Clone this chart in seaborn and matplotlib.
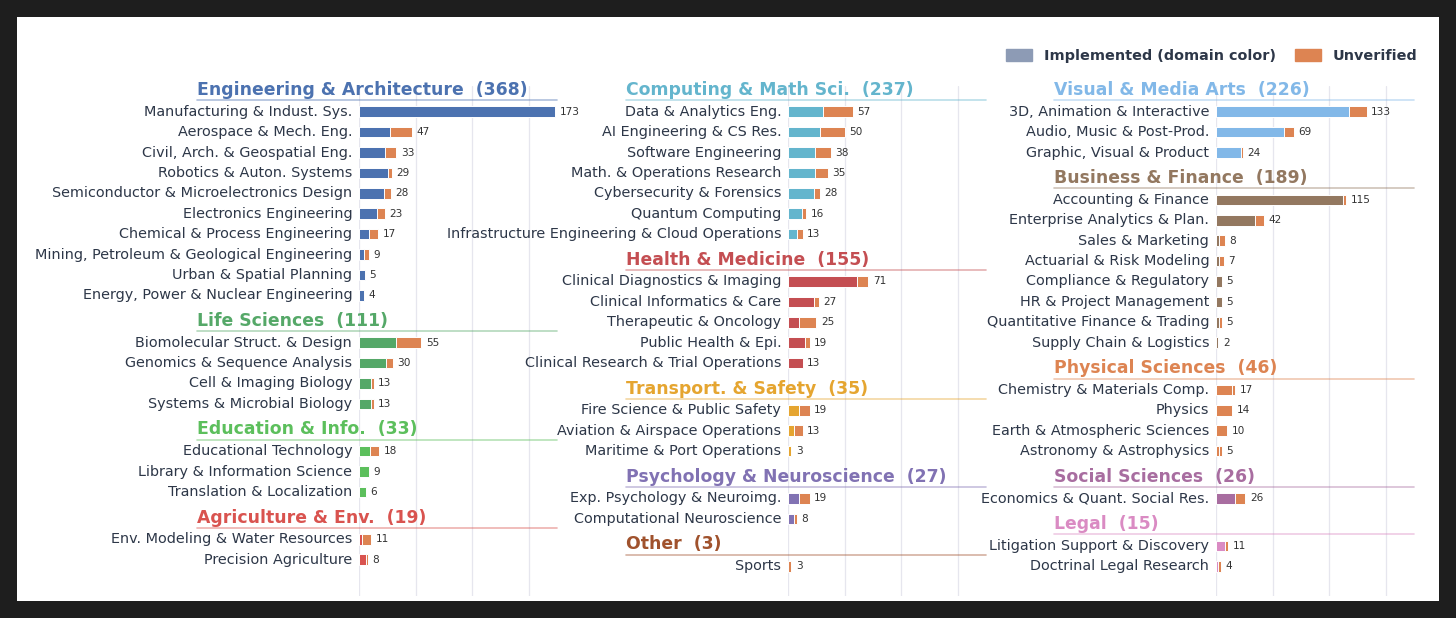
import pandas as pd
import matplotlib.pyplot as plt
import seaborn as sns
from matplotlib.patches import Patch, Rectangle

# ---- data (implemented / unverified counts per sub-field) ----
eng_labels = ["Manufacturing & Indust. Sys.", "Aerospace & Mech. Eng.", "Civil, Arch. & Geospatial Eng.",
              "Robotics & Auton. Systems", "Semiconductor & Microelectronics Design", "Electronics Engineering",
              "Chemical & Process Engineering", "Mining, Petroleum & Geological Engineering",
              "Urban & Spatial Planning", "Energy, Power & Nuclear Engineering"]
eng_impl = [173, 27, 23, 26, 22, 16, 9, 4, 5, 4]
eng_unv = [0, 20, 10, 3, 6, 7, 8, 5, 0, 0]

life_labels = ["Biomolecular Struct. & Design", "Genomics & Sequence Analysis", "Cell & Imaging Biology",
               "Systems & Microbial Biology"]
life_impl = [33, 24, 11, 11]
life_unv = [22, 6, 2, 2]

edu_labels = ["Educational Technology", "Library & Information Science", "Translation & Localization"]
edu_impl = [10, 9, 6]
edu_unv = [8, 0, 0]

agri_labels = ["Env. Modeling & Water Resources", "Precision Agriculture"]
agri_impl = [3, 6]
agri_unv = [8, 2]

comp_labels = ["Data & Analytics Eng.", "AI Engineering & CS Res.", "Software Engineering",
               "Math. & Operations Research", "Cybersecurity & Forensics", "Quantum Computing",
               "Infrastructure Engineering & Cloud Operations"]
comp_impl = [31, 28, 24, 24, 23, 12, 8]
comp_unv = [26, 22, 14, 11, 5, 4, 5]

health_labels = ["Clinical Diagnostics & Imaging", "Clinical Informatics & Care", "Therapeutic & Oncology",
                 "Public Health & Epi.", "Clinical Research & Trial Operations"]
health_impl = [61, 23, 10, 15, 13]
health_unv = [10, 4, 15, 4, 0]

trans_labels = ["Fire Science & Public Safety", "Aviation & Airspace Operations", "Maritime & Port Operations"]
trans_impl = [10, 5, 3]
trans_unv = [9, 8, 0]

psych_labels = ["Exp. Psychology & Neuroimg.", "Computational Neuroscience"]
psych_impl = [10, 5]
psych_unv = [9, 3]

other_labels = ["Sports"]
other_impl = [0]
other_unv = [3]

vis_labels = ["3D, Animation & Interactive", "Audio, Music & Post-Prod.", "Graphic, Visual & Product"]
vis_impl = [117, 60, 22]
vis_unv = [16, 9, 2]

bus_labels = ["Accounting & Finance", "Enterprise Analytics & Plan.", "Sales & Marketing",
              "Actuarial & Risk Modeling", "Compliance & Regulatory", "HR & Project Management",
              "Quantitative Finance & Trading", "Supply Chain & Logistics"]
bus_impl = [112, 34, 3, 3, 5, 5, 3, 2]
bus_unv = [3, 8, 5, 4, 0, 0, 2, 0]

phys_labels = ["Chemistry & Materials Comp.", "Physics", "Earth & Atmospheric Sciences", "Astronomy & Astrophysics"]
phys_impl = [14, 14, 10, 3]
phys_unv = [3, 0, 0, 2]

soc_labels = ["Economics & Quant. Social Res."]
soc_impl = [17]
soc_unv = [9]

legal_labels = ["Litigation Support & Discovery", "Doctrinal Legal Research"]
legal_impl = [8, 2]
legal_unv = [3, 2]

UNV = "#dd8452"
columns = [
    [("Engineering & Architecture", eng_labels, eng_impl, eng_unv, "#4c72b0"),
     ("Life Sciences", life_labels, life_impl, life_unv, "#55a868"),
     ("Education & Info.", edu_labels, edu_impl, edu_unv, "#5cbf5c"),
     ("Agriculture & Env.", agri_labels, agri_impl, agri_unv, "#d9534f")],
    [("Computing & Math Sci.", comp_labels, comp_impl, comp_unv, "#64b5cd"),
     ("Health & Medicine", health_labels, health_impl, health_unv, "#c44e52"),
     ("Transport. & Safety", trans_labels, trans_impl, trans_unv, "#e5a530"),
     ("Psychology & Neuroscience", psych_labels, psych_impl, psych_unv, "#8172b3"),
     ("Other", other_labels, other_impl, other_unv, "#a0522d")],
    [("Visual & Media Arts", vis_labels, vis_impl, vis_unv, "#82b8e8"),
     ("Business & Finance", bus_labels, bus_impl, bus_unv, "#937860"),
     ("Physical Sciences", phys_labels, phys_impl, phys_unv, "#dd8452"),
     ("Social Sciences", soc_labels, soc_impl, soc_unv, "#a86da0"),
     ("Legal", legal_labels, legal_impl, legal_unv, "#da8bc3")],
]

sns.set_style("whitegrid")
plt.rcParams['font.family'] = ['DejaVu Sans']

W, H = 1456, 618
G = 1.16          # gap between a header and its neighbouring rows
XMAX = 174.7
HX = -143         # header x position (data units)

fig = plt.figure(figsize=(W / 100, H / 100), dpi=100, facecolor="#1e1e1e")
fig.patches.append(Rectangle((17 / W, 17 / H), 1422 / W, 584 / H, transform=fig.transFigure,
                             facecolor="white", edgecolor="none", zorder=-10))

lefts = [359, 788, 1216]
for left, col in zip(lefts, columns):
    ax = fig.add_axes([left / W, 22 / H, 198 / W, 510 / H])
    ax.patch.set_alpha(0)

    rows, headers = [], []
    y = 0.0
    for name, labels, impl, unv, color in col:
        headers.append((y, name, sum(impl) + sum(unv), color))
        y += G
        for lab, i, u in zip(labels, impl, unv):
            rows.append(dict(y=y, label=lab, domain=name, impl=i, total=i + u))
            y += 1
        y += G - 1
    df = pd.DataFrame(rows)
    pal = {c[0]: c[4] for c in col}

    # totals in orange, implemented part drawn over it in the domain colour
    sns.barplot(data=df, x="total", y="y", orient="h", native_scale=True, color=UNV,
                saturation=1, width=0.52, errorbar=None, edgecolor="white", linewidth=0.7, ax=ax)
    sns.barplot(data=df[df.impl > 0], x="impl", y="y", hue="domain", palette=pal, orient="h",
                native_scale=True, dodge=False, saturation=1, width=0.52, errorbar=None,
                edgecolor="white", linewidth=0.7, legend=False, ax=ax)

    for r in df.itertuples():
        ax.text(-6, r.y, r.label, ha="right", va="center", fontsize=10.4, color="#2d3748")
        ax.text(r.total + 4, r.y, str(r.total), ha="left", va="center", fontsize=7.6, color="#333333")

    for yh, name, total, color in headers:
        ax.text(HX, yh + 0.34, f"{name}  ({total})", ha="left", va="baseline", fontsize=12.4,
                fontweight="bold", color=color, clip_on=False)
        ax.plot([HX, XMAX], [yh + 0.6, yh + 0.6], color=color, alpha=0.45, lw=1.2, clip_on=False)

    ax.set_xlim(0, XMAX)
    ax.set_ylim(24.9, -0.1)
    ax.set_xticks([0, 50, 100, 150])
    ax.set_yticks([])
    ax.grid(axis="x", color="#e6e6ee", lw=0.9)
    ax.grid(axis="y", visible=False)
    ax.tick_params(length=0, labelbottom=False, labelleft=False)
    ax.set(xlabel="", ylabel="")
    for s in ax.spines.values():
        s.set_visible(False)

fig.legend(handles=[Patch(color="#8d9bb5", label="Implemented (domain color)"),
                    Patch(color=UNV, label="Unverified")],
           loc="upper right", bbox_to_anchor=(1430 / W, 1 - 36 / H), ncol=2, frameon=False,
           prop=dict(weight="bold", size=10.4), labelcolor="#2d3748",
           handlelength=1.8, handleheight=0.9, columnspacing=1.3, handletextpad=0.8)

fig.savefig("out.png", dpi=100, facecolor=fig.get_facecolor())
